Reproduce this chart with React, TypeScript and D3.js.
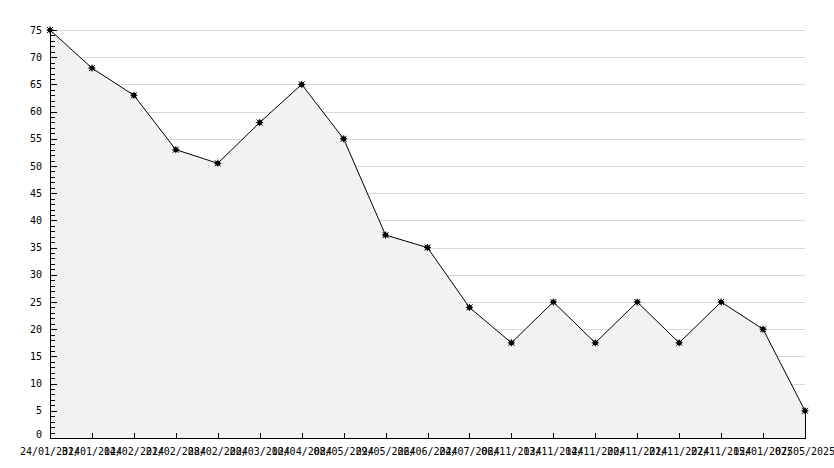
import { useEffect, useRef } from "react";
import * as d3 from "d3";

// data
const dates = [
  "24/01/2024", "31/01/2024", "14/02/2024", "21/02/2024", "28/02/2024",
  "20/03/2024", "10/04/2024", "08/05/2024", "29/05/2024", "26/06/2024",
  "24/07/2024", "06/11/2024", "13/11/2024", "14/11/2024", "20/11/2024",
  "21/11/2024", "27/11/2024", "15/01/2025", "07/05/2025",
];
const values = [75, 68, 63, 53, 50.5, 58, 65, 55, 37.3, 35, 24, 17.5, 25, 17.5, 25, 17.5, 25, 20, 5];
const yTicks = [0, 5, 10, 15, 20, 25, 30, 35, 40, 45, 50, 55, 60, 65, 70, 75];

const width = 834;
const height = 468;
const font = "'DejaVu Sans Mono', monospace";

const App = () => {
  const ref = useRef<SVGSVGElement>(null);

  useEffect(() => {
    const svg = d3.select(ref.current);
    svg.selectAll("*").remove();

    const x = d3.scalePoint<number>().domain(d3.range(dates.length)).range([50, 805]);
    const y = d3.scaleLinear().domain([0, 75]).range([438, 30]);

    // grid
    svg
      .append("g")
      .selectAll("line")
      .data(yTicks.filter((t) => t > 0))
      .join("line")
      .attr("x1", 50)
      .attr("x2", 805)
      .attr("y1", (d) => y(d) + 0.5)
      .attr("y2", (d) => y(d) + 0.5)
      .attr("stroke", "#d8d8d8")
      .attr("shape-rendering", "crispEdges");

    // area
    const area = d3
      .area<number>()
      .x((_, i) => x(i)!)
      .y0(y(0))
      .y1((d) => y(d));
    svg
      .append("path")
      .datum(values)
      .attr("d", area)
      .attr("fill", "#f2f2f2")
      .attr("stroke", "none");

    const line = d3
      .line<number>()
      .x((_, i) => x(i)!)
      .y((d) => y(d));
    svg
      .append("path")
      .datum(values)
      .attr("d", line)
      .attr("fill", "none")
      .attr("stroke", "#000")
      .attr("stroke-width", 1);

    // right edge of the area
    svg
      .append("line")
      .attr("x1", x(values.length - 1)! + 0.5)
      .attr("x2", x(values.length - 1)! + 0.5)
      .attr("y1", y(values[values.length - 1]))
      .attr("y2", y(0))
      .attr("stroke", "#000")
      .attr("shape-rendering", "crispEdges");

    // y axis
    const yAxis = svg.append("g").attr("shape-rendering", "crispEdges");
    yAxis
      .append("line")
      .attr("x1", 50.5)
      .attr("x2", 50.5)
      .attr("y1", 30)
      .attr("y2", 438)
      .attr("stroke", "#000");
    yAxis
      .selectAll(".minor")
      .data(d3.range(0, 76))
      .join("line")
      .attr("x1", 50)
      .attr("x2", (d) => (d % 5 === 0 ? 57 : 55))
      .attr("y1", (d) => Math.round(y(d)) + 0.5)
      .attr("y2", (d) => Math.round(y(d)) + 0.5)
      .attr("stroke", "#000");
    svg
      .append("g")
      .selectAll("text")
      .data(yTicks)
      .join("text")
      .attr("x", 42)
      .attr("y", (d) => y(d) + (d === 0 ? 0 : 3.5))
      .attr("text-anchor", "end")
      .attr("font-family", font)
      .attr("font-size", 10)
      .text((d) => d);

    // x axis
    const xAxis = svg.append("g").attr("shape-rendering", "crispEdges");
    xAxis
      .append("line")
      .attr("x1", 50)
      .attr("x2", 806)
      .attr("y1", 438.5)
      .attr("y2", 438.5)
      .attr("stroke", "#000");
    xAxis
      .selectAll(".tick")
      .data(d3.range(dates.length))
      .join("line")
      .attr("x1", (d) => Math.round(x(d)!) + 0.5)
      .attr("x2", (d) => Math.round(x(d)!) + 0.5)
      .attr("y1", 433)
      .attr("y2", 438)
      .attr("stroke", "#000");
    svg
      .append("g")
      .selectAll("text")
      .data(dates)
      .join("text")
      .attr("x", (_, i) => x(i)!)
      .attr("y", 455)
      .attr("text-anchor", "middle")
      .attr("font-family", font)
      .attr("font-size", 10)
      .text((d) => d);

    // markers
    const marks = svg
      .append("g")
      .selectAll("g")
      .data(values)
      .join("g")
      .attr("transform", (d, i) => `translate(${x(i)},${y(d)})`);
    marks.append("circle").attr("r", 2.5).attr("fill", "#000");
    marks
      .append("path")
      .attr("d", "M-3.5,0H3.5M0,-3.5V3.5M-3,-3L3,3M-3,3L3,-3")
      .attr("stroke", "#000")
      .attr("stroke-width", 1);
  }, []);

  return (
    <svg
      ref={ref}
      width={width}
      height={height}
      style={{ position: "absolute", left: 0, top: 0, background: "#fff" }}
    />
  );
};

export default App;
